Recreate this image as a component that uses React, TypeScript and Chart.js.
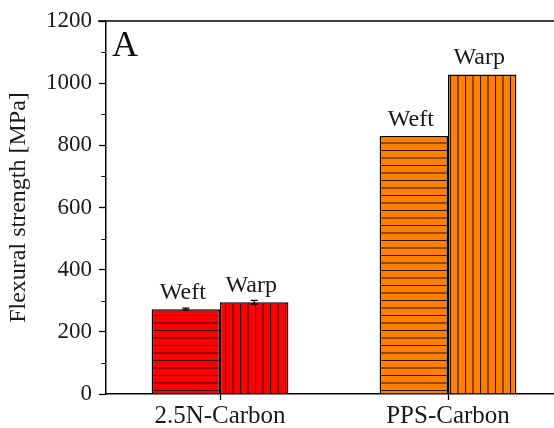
import React, { useEffect, useRef } from "react";
import { Chart, registerables } from "chart.js";

Chart.register(...registerables);

const categories = ["2.5N-Carbon", "PPS-Carbon"];
const weftValues = [273, 830];
const warpValues = [295, 1028];
const weftErrors = [3, 0];
const warpErrors = [6, 0];
const seriesNames = ["Weft", "Warp"];
const yTicks = [0, 200, 400, 600, 800, 1000, 1200];
const yMinorTicks = [100, 300, 500, 700, 900, 1100];
const panelLabel = "A";
const yTitle = "Flexural strength [MPa]";

const FONT = "'Liberation Serif', 'DejaVu Serif', serif";
const RED = "#ff0000";
const ORANGE = "#ff8000";

function makePattern(color: string, vertical: boolean): CanvasPattern | string {
  const c = document.createElement("canvas");
  c.width = 15;
  c.height = 15;
  const g = c.getContext("2d");
  if (!g) return color;
  g.fillStyle = color;
  g.fillRect(0, 0, 15, 15);
  g.strokeStyle = "rgba(20,10,10,0.9)";
  g.lineWidth = 1.1;
  g.beginPath();
  if (vertical) {
    g.moveTo(0.5, 0);
    g.lineTo(0.5, 15);
    g.moveTo(8, 0);
    g.lineTo(8, 15);
  } else {
    g.moveTo(0, 0.5);
    g.lineTo(15, 0.5);
    g.moveTo(0, 8);
    g.lineTo(15, 8);
  }
  g.stroke();
  const p = g.createPattern(c, "repeat");
  return p || color;
}

export default function App() {
  const ref = useRef<HTMLCanvasElement | null>(null);

  useEffect(() => {
    document.body.style.margin = "0";
    const canvas = ref.current;
    if (!canvas) return;
    const colors = [RED, ORANGE];
    const weftBg = colors.map((c) => makePattern(c, false));
    const warpBg = colors.map((c) => makePattern(c, true));
    const errs = [weftErrors, warpErrors];

    const extras = {
      id: "extras",
      afterDatasetsDraw(chart: any) {
        const { ctx, chartArea, scales } = chart;
        const y = scales.y;
        ctx.save();
        // error bars
        ctx.strokeStyle = "#000";
        ctx.lineWidth = 1.2;
        chart.data.datasets.forEach((ds: any, di: number) => {
          const meta = chart.getDatasetMeta(di);
          meta.data.forEach((bar: any, i: number) => {
            const e = errs[di][i];
            if (!e) return;
            const v = ds.data[i];
            const y1 = y.getPixelForValue(v - e);
            const y2 = y.getPixelForValue(v + e);
            ctx.beginPath();
            ctx.moveTo(bar.x, y1);
            ctx.lineTo(bar.x, y2);
            ctx.moveTo(bar.x - 3.5, y1);
            ctx.lineTo(bar.x + 3.5, y1);
            ctx.moveTo(bar.x - 3.5, y2);
            ctx.lineTo(bar.x + 3.5, y2);
            ctx.stroke();
          });
        });
        // bar labels
        ctx.fillStyle = "#1a1a1a";
        ctx.font = `24px ${FONT}`;
        ctx.textAlign = "center";
        ctx.textBaseline = "alphabetic";
        chart.data.datasets.forEach((ds: any, di: number) => {
          const meta = chart.getDatasetMeta(di);
          meta.data.forEach((bar: any) => {
            ctx.fillText(ds.label, bar.x - 3, bar.y - 10.5);
          });
        });
        // frame top & right
        ctx.strokeStyle = "#000";
        ctx.lineWidth = 1.5;
        ctx.beginPath();
        ctx.moveTo(chartArea.left - 8, chartArea.top);
        ctx.lineTo(chartArea.right, chartArea.top);
        ctx.lineTo(chartArea.right, chartArea.bottom);
        ctx.stroke();
        // minor ticks
        ctx.lineWidth = 1.2;
        ctx.beginPath();
        yMinorTicks.forEach((v) => {
          const py = Math.round(y.getPixelForValue(v)) + 0.5;
          ctx.moveTo(chartArea.left - 4.5, py);
          ctx.lineTo(chartArea.left, py);
        });
        ctx.stroke();
        // panel label
        ctx.fillStyle = "#111";
        ctx.font = `36px ${FONT}`;
        ctx.textAlign = "left";
        ctx.textBaseline = "alphabetic";
        ctx.fillText(panelLabel, chartArea.left + 6, chartArea.top + 35);
        ctx.restore();
      },
    };

    const chart = new Chart(canvas, {
      type: "bar",
      data: {
        labels: categories,
        datasets: [
          {
            label: seriesNames[0],
            data: weftValues,
            backgroundColor: weftBg as any,
            borderColor: "#000",
            borderWidth: 1.5,
          },
          {
            label: seriesNames[1],
            data: warpValues,
            backgroundColor: warpBg as any,
            borderColor: "#000",
            borderWidth: 1.5,
          },
        ],
      },
      options: {
        responsive: false,
        animation: false,
        devicePixelRatio: 1,
        layout: { padding: { top: 21, right: 2, left: 0, bottom: 0 } },
        datasets: { bar: { categoryPercentage: 0.6, barPercentage: 1.0 } },
        plugins: {
          legend: { display: false },
          tooltip: { enabled: false },
          title: { display: false },
        },
        scales: {
          x: {
            grid: {
              drawOnChartArea: false,
              offset: false,
              tickLength: 6,
              tickColor: "#000",
              tickWidth: 1.3,
            },
            border: { color: "#000", width: 1.5 },
            ticks: {
              color: "#1a1a1a",
              font: { family: FONT, size: 25 },
              padding: 1,
              maxRotation: 0,
            },
            afterFit(scale: any) {
              scale.height = 34;
            },
          },
          y: {
            min: 0,
            max: 1200,
            afterBuildTicks(scale: any) {
              scale.ticks = yTicks.map((v) => ({ value: v }));
            },
            grid: {
              drawOnChartArea: false,
              tickLength: 7,
              tickColor: "#000",
              tickWidth: 1.3,
            },
            border: { color: "#000", width: 1.5 },
            ticks: {
              color: "#1a1a1a",
              font: { family: FONT, size: 23 },
              padding: 7,
              callback: (v: any) => String(v),
            },
            title: {
              display: true,
              text: yTitle,
              color: "#1a1a1a",
              font: { family: FONT, size: 24 },
              padding: { top: 4, bottom: 0 },
            },
            afterFit(scale: any) {
              scale.width = 106;
            },
          },
        },
      },
      plugins: [extras],
    });
    return () => chart.destroy();
  }, []);

  return (
    <div
      style={{
        position: "fixed",
        left: 0,
        top: 0,
        width: 554,
        height: 428,
        overflow: "hidden",
        background: "#fff",
      }}
    >
      <canvas ref={ref} width={564} height={428} style={{ display: "block" }} />
    </div>
  );
}
